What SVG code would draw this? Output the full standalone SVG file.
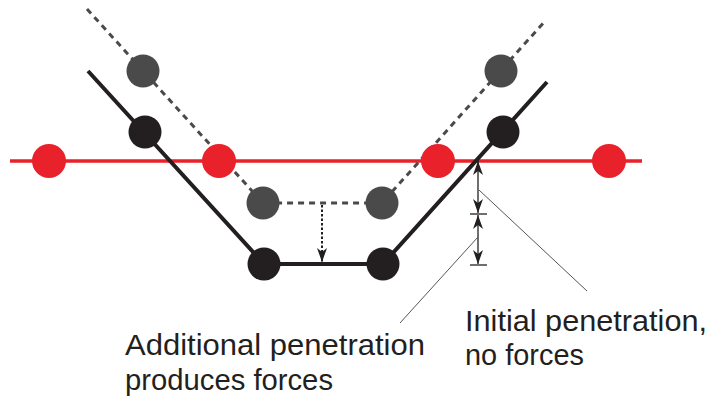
<svg xmlns="http://www.w3.org/2000/svg" width="715" height="407" viewBox="0 0 715 407">
<style>
.red{fill:#e8212a}
.gray{fill:#4a4a4a}
.blk{fill:#231f20}
.redline{stroke:#e8212a;stroke-width:3.5;fill:none}
.dash{stroke:#4a4a4a;stroke-width:3;fill:none;stroke-dasharray:6 5}
.solid{stroke:#231f20;stroke-width:4;fill:none}
.dim{stroke:#231f20;stroke-width:1.3;fill:none}
.leader{stroke:#555;stroke-width:1;fill:none}
.lbl{font-family:"Liberation Sans",Arial,sans-serif;font-size:29px;fill:#231f20}
</style>
<defs>
<marker id="ah" viewBox="0 0 14 10" refX="14" refY="5" markerWidth="14" markerHeight="10" markerUnits="userSpaceOnUse" orient="auto">
<path d="M0,0 L14,5 L0,10 L4,5 Z" fill="#231f20"/>
</marker>
</defs>
<rect width="715" height="407" fill="#fff"/>
<g id="connectors">
<line class="redline" x1="10" y1="161" x2="642" y2="161"/>
<polyline class="dash" points="87,9 263,203 382,203 546,20"/>
<polyline class="solid" points="88,71 264,264 383,264 547,82"/>
<line x1="322" y1="205" x2="322" y2="262" stroke="#231f20" stroke-width="2" stroke-dasharray="2.5 2" marker-end="url(#ah)"/>
<line class="dim" x1="478" y1="187" x2="478" y2="161" marker-end="url(#ah)"/>
<line class="dim" x1="478" y1="187" x2="478" y2="213" marker-end="url(#ah)"/>
<line class="dim" x1="478" y1="240" x2="478" y2="215" marker-end="url(#ah)"/>
<line class="dim" x1="478" y1="240" x2="478" y2="264" marker-end="url(#ah)"/>
<line class="dim" x1="470" y1="214" x2="487" y2="214"/>
<line class="dim" x1="470" y1="265" x2="487" y2="265"/>
<line class="leader" x1="479" y1="190" x2="587" y2="291"/>
<line class="leader" x1="478" y1="237" x2="400" y2="323"/>
</g>
<g id="red1"><circle class="red" cx="49" cy="161" r="17"/></g>
<g id="red2"><circle class="red" cx="219" cy="161" r="17"/></g>
<g id="red3"><circle class="red" cx="438" cy="161" r="17"/></g>
<g id="red4"><circle class="red" cx="609" cy="161" r="17"/></g>
<g id="gray1"><circle class="gray" cx="143" cy="71" r="16.5"/></g>
<g id="gray2"><circle class="gray" cx="263" cy="203" r="16.5"/></g>
<g id="gray3"><circle class="gray" cx="382" cy="203" r="16.5"/></g>
<g id="gray4"><circle class="gray" cx="501" cy="71" r="16.5"/></g>
<g id="black1"><circle class="blk" cx="145" cy="132" r="16.5"/></g>
<g id="black2"><circle class="blk" cx="264" cy="264" r="16.5"/></g>
<g id="black3"><circle class="blk" cx="383" cy="264" r="16.5"/></g>
<g id="black4"><circle class="blk" cx="503" cy="132" r="16.5"/></g>
<g id="label-additional">
<text class="lbl" x="125" y="355" textLength="300" lengthAdjust="spacingAndGlyphs">Additional penetration</text>
<text class="lbl" x="125" y="390" textLength="208" lengthAdjust="spacingAndGlyphs">produces forces</text>
</g>
<g id="label-initial">
<text class="lbl" x="465" y="331" textLength="242" lengthAdjust="spacingAndGlyphs">Initial penetration,</text>
<text class="lbl" x="465" y="365" textLength="119" lengthAdjust="spacingAndGlyphs">no forces</text>
</g>
</svg>
